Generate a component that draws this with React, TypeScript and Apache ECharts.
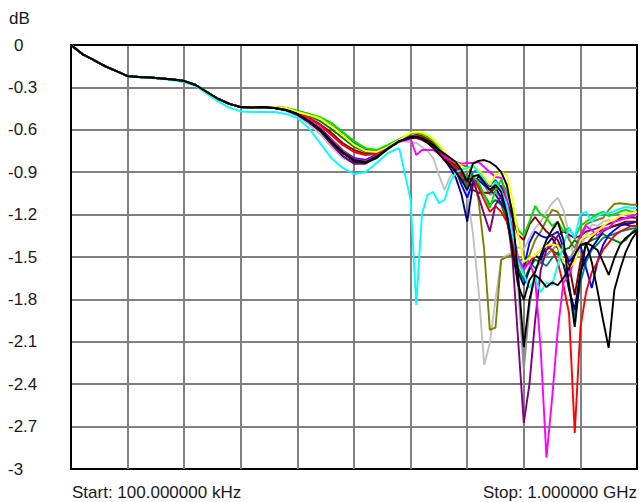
import React, { useEffect, useRef } from "react";
import * as echarts from "echarts";

// Frequencies in MHz, levels in dB
const PREFIX_FREQ = [0, 20, 40, 60, 80, 100, 120, 140, 160, 180, 200, 220, 240, 260, 280, 300, 320, 340];
const PREFIX_DB = [0, -0.064, -0.106, -0.149, -0.184, -0.22, -0.226, -0.23, -0.237, -0.244, -0.255, -0.283, -0.333, -0.382, -0.417, -0.439, -0.442, -0.439];
const CYAN_PREFIX_DB = [0, -0.064, -0.106, -0.149, -0.184, -0.22, -0.228, -0.232, -0.24, -0.25, -0.262, -0.29, -0.345, -0.4, -0.445, -0.47, -0.474, -0.474];

const TAIL_FREQ = [360, 380, 400, 420, 440, 460, 480, 500, 520, 540, 560, 580, 600,
  610, 620, 630, 640, 650, 660, 670, 680, 690, 700,
  710, 720, 730, 740, 750, 760, 770, 780, 790, 800,
  810, 820, 830, 840, 850, 860, 870, 880, 890, 900,
  910, 920, 930, 940, 950, 960, 970, 980, 990, 1000];

const SILVER = [
  -0.446, -0.467, -0.5, -0.56, -0.63, -0.72, -0.8, -0.835, -0.82, -0.77, -0.715, -0.68, -0.686,
  -0.693, -0.72, -0.75, -0.8, -0.92, -1.026, -0.93, -0.89, -0.92, -1.05,
  -1.33, -1.73, -2.264, -2.11, -1.8, -1.52, -1.486, -1.47, -1.43, -1.45,
  -1.365, -1.295, -1.25, -1.18, -1.12, -1.08, -1.167, -1.344, -1.535, -1.436,
  -1.344, -1.27, -1.28, -1.25, -1.238, -1.25, -1.245, -1.23, -1.224, -1.224];

const OLIVE = [
  -0.446, -0.46, -0.488, -0.53, -0.587, -0.665, -0.743, -0.8, -0.814, -0.778, -0.73, -0.68, -0.658,
  -0.65, -0.658, -0.68, -0.715, -0.757, -0.79, -0.828, -0.85, -0.856, -0.856,
  -0.92, -1.097, -1.45, -2.016, -2.0, -1.52, -1.5, -1.486, -1.507, -1.578,
  -1.486, -1.38, -1.32, -1.238, -1.167, -1.18, -1.27, -1.38, -1.436, -1.344,
  -1.27, -1.25, -1.238, -1.224, -1.167, -1.125, -1.12, -1.125, -1.13, -1.13];

const TEAL = [
  -0.439, -0.446, -0.467, -0.488, -0.516, -0.566, -0.63, -0.693, -0.736, -0.75, -0.715, -0.672, -0.644,
  -0.637, -0.644, -0.665, -0.7, -0.75, -0.79, -0.835, -0.884, -0.94, -0.997,
  -0.9, -0.884, -0.94, -0.99, -0.955, -1.01, -1.167, -1.365, -1.535, -1.507,
  -1.535, -1.578, -1.535, -1.564, -1.507, -1.465, -1.556, -1.7, -1.93, -1.68,
  -1.535, -1.45, -1.41, -1.365, -1.35, -1.336, -1.32, -1.31, -1.3, -1.295];

const DARK_GREEN = [
  -0.439, -0.453, -0.474, -0.5, -0.538, -0.594, -0.658, -0.72, -0.757, -0.757, -0.72, -0.672, -0.644,
  -0.644, -0.65, -0.672, -0.707, -0.75, -0.79, -0.828, -0.87, -0.913, -0.955,
  -0.94, -0.997, -1.06, -1.13, -1.097, -1.13, -1.238, -1.415, -1.578, -1.663,
  -1.578, -1.52, -1.535, -1.486, -1.45, -1.486, -1.45, -1.436, -1.38, -1.42,
  -1.41, -1.38, -1.365, -1.336, -1.365, -1.38, -1.4, -1.38, -1.33, -1.295];

const BLUE = [
  -0.446, -0.46, -0.488, -0.53, -0.587, -0.672, -0.75, -0.8, -0.814, -0.778, -0.72, -0.68, -0.658,
  -0.65, -0.658, -0.68, -0.715, -0.757, -0.79, -0.828, -0.884, -0.99, -1.08,
  -0.97, -0.955, -0.99, -1.026, -1.06, -1.12, -1.18, -1.38, -1.535, -1.578,
  -1.4, -1.32, -1.35, -1.365, -1.344, -1.32, -1.436, -1.535, -1.486, -1.415,
  -1.578, -1.72, -1.535, -1.415, -1.344, -1.31, -1.28, -1.266, -1.26, -1.25];

const NAVY = [
  -0.446, -0.46, -0.495, -0.545, -0.608, -0.7, -0.785, -0.835, -0.835, -0.79, -0.73, -0.68, -0.658,
  -0.65, -0.658, -0.672, -0.715, -0.764, -0.814, -0.87, -0.94, -1.06, -1.25,
  -0.99, -0.93, -0.97, -0.997, -1.01, -1.08, -1.2, -1.38, -1.606, -1.7,
  -1.59, -1.486, -1.52, -1.415, -1.365, -1.436, -1.535, -1.733, -1.875, -1.606,
  -1.507, -1.436, -1.38, -1.32, -1.295, -1.28, -1.27, -1.27, -1.28, -1.28];

const MAROON = [
  -0.439, -0.453, -0.48, -0.516, -0.56, -0.62, -0.693, -0.743, -0.77, -0.764, -0.72, -0.68, -0.65,
  -0.637, -0.644, -0.665, -0.693, -0.743, -0.785, -0.82, -0.856, -0.9, -0.94,
  -1.026, -1.045, -1.045, -1.045, -1.01, -0.997, -1.097, -1.224, -1.344, -1.38,
  -1.27, -1.217, -1.27, -1.32, -1.35, -1.38, -1.465, -1.556, -1.77, -1.535,
  -1.415, -1.365, -1.32, -1.31, -1.295, -1.28, -1.266, -1.25, -1.25, -1.25];

const GRAY = [
  -0.446, -0.46, -0.488, -0.538, -0.6, -0.686, -0.764, -0.814, -0.82, -0.785, -0.73, -0.68, -0.658,
  -0.65, -0.665, -0.686, -0.72, -0.764, -0.8, -0.835, -0.87, -0.92, -0.97,
  -0.94, -0.955, -0.99, -1.06, -1.04, -1.08, -1.167, -1.38, -1.7, -2.3,
  -1.85, -1.6, -1.52, -1.49, -1.45, -1.41, -1.45, -1.52, -1.45, -1.38,
  -1.36, -1.34, -1.32, -1.3, -1.29, -1.28, -1.27, -1.26, -1.26, -1.25];

const RED = [
  -0.439, -0.453, -0.48, -0.516, -0.566, -0.637, -0.707, -0.757, -0.778, -0.77, -0.73, -0.68, -0.65,
  -0.644, -0.65, -0.672, -0.707, -0.757, -0.8, -0.835, -0.87, -0.92, -0.97,
  -0.94, -1.01, -1.097, -1.18, -1.14, -1.18, -1.25, -1.415, -1.556, -1.578,
  -1.535, -1.49, -1.45, -1.42, -1.45, -1.535, -1.7, -1.9, -2.745, -2.0,
  -1.75, -1.61, -1.535, -1.45, -1.4, -1.35, -1.32, -1.3, -1.28, -1.28];

const PURPLE = [
  -0.446, -0.46, -0.495, -0.545, -0.608, -0.7, -0.785, -0.84, -0.84, -0.79, -0.73, -0.68, -0.658,
  -0.658, -0.672, -0.693, -0.72, -0.764, -0.814, -0.85, -0.9, -0.97, -0.94,
  -0.955, -1.07, -1.2, -1.32, -1.13, -1.07, -1.2, -1.507, -2.087, -2.674,
  -2.4, -1.95, -1.59, -1.45, -1.415, -1.35, -1.32, -1.344, -1.365, -1.35,
  -1.32, -1.31, -1.295, -1.28, -1.266, -1.25, -1.224, -1.224, -1.217, -1.224];

const MAGENTA = [
  -0.446, -0.46, -0.488, -0.53, -0.587, -0.672, -0.75, -0.807, -0.82, -0.785, -0.73, -0.686, -0.665,
  -0.778, -0.743, -0.743, -0.743, -0.77, -0.79, -0.814, -0.828, -0.84, -0.835,
  -0.835, -0.828, -0.863, -0.9, -0.934, -0.94, -1.097, -1.31, -1.507, -1.59,
  -1.535, -1.65, -2.16, -2.92, -2.5, -2.02, -1.68, -1.634, -1.5, -1.36,
  -1.28, -1.31, -1.35, -1.31, -1.295, -1.25, -1.238, -1.224, -1.21, -1.2];

const GREEN = [
  -0.439, -0.446, -0.467, -0.488, -0.51, -0.55, -0.615, -0.68, -0.73, -0.743, -0.707, -0.665, -0.625,
  -0.62, -0.63, -0.65, -0.68, -0.72, -0.764, -0.8, -0.835, -0.884, -0.94,
  -0.93, -0.97, -1.06, -1.153, -1.026, -0.955, -1.04, -1.167, -1.31, -1.35,
  -1.25, -1.14, -1.2, -1.224, -1.28, -1.25, -1.32, -1.295, -1.365, -1.28,
  -1.25, -1.224, -1.196, -1.18, -1.21, -1.196, -1.18, -1.167, -1.18, -1.18];

const YELLOW = [
  -0.439, -0.446, -0.474, -0.495, -0.52, -0.573, -0.637, -0.707, -0.75, -0.757, -0.72, -0.672, -0.62,
  -0.615, -0.62, -0.637, -0.665, -0.707, -0.757, -0.8, -0.828, -0.856, -0.884,
  -0.85, -0.884, -0.93, -0.99, -0.92, -0.9, -0.92, -1.097, -1.344, -1.535,
  -1.507, -1.49, -1.45, -1.42, -1.41, -1.42, -1.535, -1.578, -1.535, -1.38,
  -1.35, -1.35, -1.32, -1.28, -1.25, -1.238, -1.21, -1.196, -1.19, -1.18];

const CYAN = [
  -0.474, -0.488, -0.516, -0.587, -0.693, -0.8, -0.87, -0.913, -0.9, -0.835, -0.764, -0.73, -1.097,
  -1.84, -1.2, -1.06, -1.04, -1.12, -1.097, -0.97, -0.9, -0.884, -0.87,
  -0.856, -0.9, -0.955, -1.026, -0.97, -1.026, -1.13, -1.344, -1.535, -1.627,
  -1.72, -1.65, -1.75, -1.68, -1.7, -1.556, -1.415, -1.295, -1.365, -1.196,
  -1.18, -1.25, -1.21, -1.19, -1.19, -1.174, -1.16, -1.146, -1.153, -1.153];

const BLACK_A = [
  -0.446, -0.46, -0.488, -0.538, -0.6, -0.686, -0.764, -0.82, -0.835, -0.8, -0.736, -0.68, -0.65,
  -0.65, -0.658, -0.68, -0.707, -0.743, -0.77, -0.8, -0.828, -0.884, -0.97,
  -0.84, -0.82, -0.814, -0.828, -0.856, -0.9, -0.99, -1.2, -1.627, -2.137,
  -1.804, -1.627, -1.663, -1.713, -1.68, -1.7, -1.65, -1.578, -1.486, -1.415,
  -1.4, -1.42, -1.45, -1.535, -1.627, -1.507, -1.415, -1.365, -1.336, -1.31];

const BLACK_B = [
  -0.446, -0.46, -0.488, -0.538, -0.594, -0.68, -0.757, -0.814, -0.828, -0.79, -0.73, -0.68, -0.658,
  -0.65, -0.665, -0.693, -0.73, -0.77, -0.814, -0.85, -0.9, -0.955, -1.026,
  -0.93, -0.92, -0.97, -1.026, -0.99, -1.04, -1.2, -1.45, -1.7, -1.804,
  -1.663, -1.606, -1.486, -1.38, -1.31, -1.25, -1.38, -1.7, -1.995, -1.627,
  -1.4, -1.535, -1.733, -1.946, -2.144, -1.733, -1.59, -1.465, -1.38, -1.32];

const TRACES = [
  { name: "Trace 1", tail: SILVER, prefix: PREFIX_DB },
  { name: "Trace 2", tail: OLIVE, prefix: PREFIX_DB },
  { name: "Trace 3", tail: TEAL, prefix: PREFIX_DB },
  { name: "Trace 4", tail: DARK_GREEN, prefix: PREFIX_DB },
  { name: "Trace 5", tail: GRAY, prefix: PREFIX_DB },
  { name: "Trace 6", tail: BLUE, prefix: PREFIX_DB },
  { name: "Trace 7", tail: NAVY, prefix: PREFIX_DB },
  { name: "Trace 8", tail: MAROON, prefix: PREFIX_DB },
  { name: "Trace 9", tail: RED, prefix: PREFIX_DB },
  { name: "Trace 10", tail: PURPLE, prefix: PREFIX_DB },
  { name: "Trace 11", tail: MAGENTA, prefix: PREFIX_DB },
  { name: "Trace 12", tail: GREEN, prefix: PREFIX_DB },
  { name: "Trace 13", tail: YELLOW, prefix: PREFIX_DB },
  { name: "Trace 14", tail: CYAN, prefix: CYAN_PREFIX_DB },
  { name: "Trace 15", tail: BLACK_B, prefix: PREFIX_DB },
  { name: "Trace 16", tail: BLACK_A, prefix: PREFIX_DB },
];

const COLORS = [
  "#c0c0c0", "#808000", "#008080", "#008000", "#909090", "#0000ff", "#000080", "#800000",
  "#ff0000", "#800080", "#ff00ff", "#00dd00", "#ffff00", "#00ffff", "#000000", "#000000",
];

const FONT = "'Liberation Sans', Arial, sans-serif";
const TEXT_COLOR = "#1a1a1a";

export default function App() {
  const ref = useRef<HTMLDivElement>(null);

  useEffect(() => {
    if (!ref.current) return;
    const chart = echarts.init(ref.current, undefined, { renderer: "svg" });

    const series = TRACES.map((t, k) => {
      const data: [number, number][] = [];
      PREFIX_FREQ.forEach((f, i) => data.push([f, t.prefix[i]]));
      TAIL_FREQ.forEach((f, i) => data.push([f, t.tail[i]]));
      return {
        name: t.name,
        type: "line" as const,
        data,
        showSymbol: false,
        symbol: "none",
        lineStyle: { color: COLORS[k], width: 1.9 },
        itemStyle: { color: COLORS[k] },
        emphasis: { disabled: true },
        z: 3 + k,
      };
    });

    chart.setOption({
      animation: false,
      backgroundColor: "#ffffff",
      grid: {
        left: 71,
        top: 45,
        right: 2,
        bottom: 33,
        show: true,
        borderColor: "#000000",
        borderWidth: 2,
        backgroundColor: "transparent",
      },
      xAxis: {
        type: "value",
        min: 0,
        max: 1000,
        interval: 100,
        axisLine: { show: true, lineStyle: { color: "#000000", width: 2 } },
        axisTick: { show: false },
        axisLabel: { show: false },
        splitLine: {
          show: true,
          showMinLine: false,
          showMaxLine: false,
          lineStyle: { color: "#808080", width: 2 },
        },
      },
      yAxis: {
        type: "value",
        min: -3,
        max: 0,
        interval: 0.3,
        axisLine: { show: true, lineStyle: { color: "#000000", width: 2 } },
        axisTick: { show: false },
        axisLabel: {
          show: true,
          align: "left",
          margin: 63,
          fontSize: 17,
          fontFamily: FONT,
          color: TEXT_COLOR,
          formatter: (v: number) => {
            if (Math.abs(v) < 1e-9) return "{z|0}";
            return String(parseFloat(v.toFixed(1)));
          },
          rich: {
            z: { padding: [0, 0, 0, 6], fontSize: 17, fontFamily: FONT, color: TEXT_COLOR },
          },
        },
        splitLine: {
          show: true,
          showMinLine: false,
          showMaxLine: false,
          lineStyle: { color: "#808080", width: 2 },
        },
      },
      graphic: [
        {
          type: "text",
          x: 9,
          y: 18,
          style: { text: "dB", fontSize: 17, fontFamily: FONT, fill: TEXT_COLOR, align: "left", verticalAlign: "middle" },
        },
        {
          type: "text",
          x: 72,
          y: 492,
          style: { text: "Start: 100.000000 kHz", fontSize: 17, fontFamily: FONT, fill: TEXT_COLOR, align: "left", verticalAlign: "middle" },
        },
        {
          type: "text",
          x: 637,
          y: 492,
          style: { text: "Stop: 1.000000 GHz", fontSize: 17, fontFamily: FONT, fill: TEXT_COLOR, align: "right", verticalAlign: "middle" },
        },
      ],
      series,
    });

    return () => {
      chart.dispose();
    };
  }, []);

  return (
    <div
      ref={ref}
      style={{ position: "fixed", left: 0, top: 0, width: 639, height: 502, background: "#ffffff" }}
    />
  );
}
